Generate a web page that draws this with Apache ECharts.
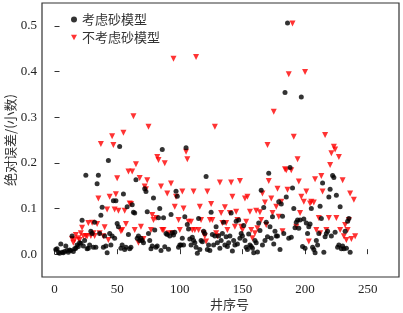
<!DOCTYPE html>
<html>
<head>
<meta charset="utf-8">
<script src="https://cdn.jsdelivr.net/npm/echarts@6/dist/echarts.min.js"></script>
<style>
  html, body { margin: 0; padding: 0; background: #fff; }
  #chart { width: 403px; height: 313px; }
</style>
</head>
<body>
<div id="chart"></div>
<script>
// 考虑砂模型 (black dots): well index / absolute error
const sandX = [1, 2, 3, 4, 5, 6, 7, 8, 9, 10, 11, 12, 13, 14, 15, 16, 17, 18, 19, 20,
  21, 22, 23, 24, 25, 26, 27, 28, 29, 30, 31, 32, 33, 34, 35, 36, 37, 38, 39, 40,
  41, 42, 43, 44, 45, 46, 47, 48, 49, 50, 51, 52, 53, 54, 55, 56, 57, 58, 59, 60,
  61, 62, 63, 64, 65, 66, 67, 68, 69, 70, 71, 72, 73, 74, 75, 76, 77, 78, 79, 80,
  81, 82, 83, 84, 85, 86, 87, 88, 89, 90, 91, 92, 93, 94, 95, 96, 97, 98, 99, 100,
  101, 102, 103, 104, 105, 106, 107, 108, 109, 110, 111, 112, 113, 114, 115, 116, 117, 118, 119, 120,
  121, 122, 123, 124, 125, 126, 127, 128, 129, 130, 131, 132, 133, 134, 135, 136, 137, 138, 139, 140,
  141, 142, 143, 144, 145, 146, 147, 148, 149, 150, 151, 152, 153, 154, 155, 156, 157, 158, 159, 160,
  161, 162, 163, 164, 165, 166, 167, 168, 169, 170, 171, 172, 173, 174, 175, 176, 177, 178, 179, 180,
  181, 182, 183, 184, 185, 186, 187, 188, 189, 190, 191, 192, 193, 194, 195, 196, 197, 198, 199, 200,
  201, 202, 203, 204, 205, 206, 207, 208, 209, 210, 211, 212, 213, 214, 215, 216, 217, 218, 219, 220,
  221, 222, 223, 224, 225, 226, 227, 228, 229, 230, 231, 232, 233, 234, 235, 236];
const sandErr = [0.010, 0.012, 0.004, 0.002, 0.022, 0.004, 0.003, 0.006, 0.018, 0.008,
  0.004, 0.009, 0.008, 0.040, 0.006, 0.012, 0.013, 0.020, 0.017, 0.025,
  0.024, 0.074, 0.018, 0.030, 0.173, 0.012, 0.013, 0.020, 0.050, 0.045,
  0.015, 0.070, 0.015, 0.154, 0.173, 0.045, 0.085, 0.103, 0.015, 0.040,
  0.018, 0.003, 0.205, 0.045, 0.020, 0.040, 0.117, 0.035, 0.117, 0.067,
  0.060, 0.236, 0.013, 0.020, 0.132, 0.010, 0.015, 0.104, 0.043, 0.012,
  0.015, 0.108, 0.092, 0.090, 0.163, 0.035, 0.040, 0.030, 0.035, 0.030,
  0.025, 0.143, 0.137, 0.093, 0.045, 0.030, 0.012, 0.018, 0.123, 0.053,
  0.015, 0.018, 0.080, 0.100, 0.008, 0.229, 0.080, 0.016, 0.045, 0.043,
  0.011, 0.040, 0.087, 0.047, 0.042, 0.048, 0.138, 0.127, 0.015, 0.020,
  0.020, 0.035, 0.020, 0.082, 0.233, 0.065, 0.055, 0.033, 0.020, 0.037,
  0.030, 0.025, 0.015, 0.002, 0.078, 0.010, 0.030, 0.027, 0.050, 0.045,
  0.170, 0.010, 0.020, 0.008, 0.092, 0.043, 0.020, 0.040, 0.060, 0.025,
  0.040, 0.013, 0.030, 0.045, 0.070, 0.020, 0.038, 0.017, 0.025, 0.040,
  0.090, 0.007, 0.030, 0.020, 0.072, 0.022, 0.075, 0.035, 0.045, 0.040,
  0.063, 0.030, 0.015, 0.010, 0.044, 0.020, 0.017, 0.013, 0.003, 0.030,
  0.025, 0.005, 0.068, 0.052, 0.140, 0.020, 0.102, 0.030, 0.070, 0.038,
  0.177, 0.060, 0.035, 0.082, 0.022, 0.050, 0.040, 0.040, 0.115, 0.010,
  0.110, 0.083, 0.045, 0.354, 0.125, 0.506, 0.035, 0.190, 0.037, 0.145,
  0.100, 0.058, 0.070, 0.075, 0.057, 0.075, 0.344, 0.017, 0.077, 0.013,
  0.068, 0.045, 0.060, 0.066, 0.100, 0.015, 0.010, 0.003, 0.030, 0.020,
  0.045, 0.105, 0.078, 0.156, 0.004, 0.038, 0.045, 0.050, 0.125, 0.142,
  0.040, 0.172, 0.168, 0.048, 0.129, 0.015, 0.020, 0.104, 0.012, 0.018,
  0.012, 0.050, 0.013, 0.072, 0.078, 0.004];

// 不考虑砂模型 (red triangles)
const noSandX = [14, 15, 16, 17, 19, 20, 21, 22, 23, 25, 26, 27, 29, 30, 31, 32, 34, 35, 36, 37,
  39, 40, 42, 43, 44, 46, 47, 48, 49, 50, 51, 53, 54, 55, 56, 57, 59, 60, 61, 62,
  63, 64, 65, 67, 68, 69, 71, 72, 73, 74, 75, 77, 78, 79, 81, 82, 83, 85, 86, 87,
  88, 90, 91, 93, 94, 95, 96, 97, 99, 100, 102, 103, 105, 106, 107, 109, 110, 111, 112, 113,
  115, 116, 117, 119, 120, 121, 122, 124, 125, 126, 128, 129, 130, 132, 133, 134, 136, 137, 138, 140,
  141, 142, 144, 145, 146, 148, 149, 150, 152, 153, 154, 156, 157, 158, 160, 161, 162, 164, 165, 166,
  168, 169, 170, 171, 173, 174, 175, 177, 178, 179, 181, 182, 184, 185, 186, 187, 189, 190, 191, 193,
  194, 195, 196, 197, 199, 200, 201, 203, 204, 205, 207, 208, 209, 211, 212, 213, 214, 216, 217, 219,
  220, 221, 223, 224, 225, 227, 228, 230, 231, 232, 233, 234, 235, 236, 237, 239, 240];
const noSandErr = [0.033, 0.025, 0.031, 0.042, 0.035, 0.031, 0.046, 0.058, 0.039, 0.040,
  0.039, 0.068, 0.040, 0.069, 0.046, 0.040, 0.066, 0.122, 0.046, 0.241,
  0.039, 0.059, 0.098, 0.031, 0.126, 0.258, 0.239, 0.098, 0.131, 0.166,
  0.095, 0.050, 0.053, 0.266, 0.095, 0.066, 0.181, 0.111, 0.110, 0.181,
  0.302, 0.053, 0.197, 0.025, 0.167, 0.060, 0.033, 0.148, 0.142, 0.162,
  0.279, 0.053, 0.086, 0.075, 0.079, 0.213, 0.206, 0.148, 0.053, 0.053,
  0.199, 0.133, 0.046, 0.155, 0.046, 0.428, 0.104, 0.126, 0.075, 0.053,
  0.137, 0.100, 0.224, 0.208, 0.071, 0.071, 0.053, 0.137, 0.053, 0.432,
  0.053, 0.104, 0.075, 0.046, 0.039, 0.028, 0.137, 0.075, 0.110, 0.075,
  0.279, 0.046, 0.039, 0.157, 0.090, 0.068, 0.103, 0.068, 0.053, 0.090,
  0.157, 0.126, 0.060, 0.093, 0.075, 0.160, 0.060, 0.053, 0.122, 0.071,
  0.126, 0.093, 0.053, 0.035, 0.046, 0.095, 0.057, 0.092, 0.075, 0.133,
  0.113, 0.064, 0.239, 0.160, 0.122, 0.090, 0.312, 0.104, 0.143, 0.082,
  0.115, 0.050, 0.186, 0.184, 0.141, 0.394, 0.184, 0.505, 0.257, 0.060,
  0.208, 0.159, 0.090, 0.126, 0.115, 0.399, 0.137, 0.028, 0.111, 0.115,
  0.113, 0.164, 0.053, 0.079, 0.046, 0.171, 0.137, 0.261, 0.053, 0.079,
  0.195, 0.221, 0.235, 0.229, 0.079, 0.213, 0.053, 0.162, 0.039, 0.064,
  0.031, 0.053, 0.075, 0.133, 0.033, 0.119, 0.039];

const xTicks = [0, 50, 100, 150, 200, 250];
const yTicks = [0, 0.1, 0.2, 0.3, 0.4, 0.5];

const chart = echarts.init(document.getElementById('chart'));

const axisFont = { fontFamily: 'Liberation Serif', fontSize: 13, color: '#222' };
const cjkFont = 'Noto Sans CJK SC';

chart.setOption({
  animation: false,
  grid: {
    left: 42, right: 4, top: 3, bottom: 36,
    outerBoundsMode: 'none',
    show: true, borderColor: '#333', borderWidth: 1.2, backgroundColor: '#fff'
  },
  legend: {
    orient: 'vertical',
    left: 71, top: 13,
    padding: 0,
    itemGap: 5,
    itemWidth: 6, itemHeight: 6,
    textStyle: { fontFamily: cjkFont, fontSize: 13, color: '#333' },
    data: [
      { name: '考虑砂模型', icon: 'circle' },
      { name: '不考虑砂模型', icon: 'path://M0,0L10,0L5,9Z' }
    ]
  },
  xAxis: {
    type: 'value',
    min: -10, max: 275,
    name: '井序号',
    nameLocation: 'middle',
    nameGap: 21,
    nameMoveOverlap: false,
    nameTextStyle: { fontFamily: cjkFont, fontSize: 13, color: '#333', padding: [0, 0, 0, 18] },
    axisLine: { show: false },
    splitLine: { show: false },
    axisTick: { inside: true, length: 5, customValues: xTicks, lineStyle: { color: '#333' } },
    axisLabel: { customValues: xTicks, margin: 6, ...axisFont }
  },
  yAxis: {
    type: 'value',
    min: -0.05, max: 0.55,
    name: '绝对误差/(小数)',
    nameLocation: 'middle',
    nameGap: 25,
    nameMoveOverlap: false,
    nameTextStyle: { fontFamily: cjkFont, fontSize: 13, color: '#333' },
    axisLine: { show: false },
    splitLine: { show: false },
    axisTick: { inside: true, length: 5, customValues: yTicks, lineStyle: { color: '#333' } },
    axisLabel: {
      customValues: yTicks, margin: 5, ...axisFont,
      formatter: v => v.toFixed(1)
    }
  },
  series: [
    {
      name: '考虑砂模型',
      type: 'scatter',
      symbol: 'circle',
      symbolSize: 5,
      itemStyle: { color: '#000' },
      data: sandX.map((x, i) => [x, sandErr[i]]),
      z: 3
    },
    {
      name: '不考虑砂模型',
      type: 'scatter',
      symbol: 'triangle',
      symbolRotate: 180,
      symbolSize: 6,
      itemStyle: { color: '#ff0000' },
      data: noSandX.map((x, i) => [x, noSandErr[i]]),
      z: 2
    }
  ]
});
</script>
</body>
</html>
